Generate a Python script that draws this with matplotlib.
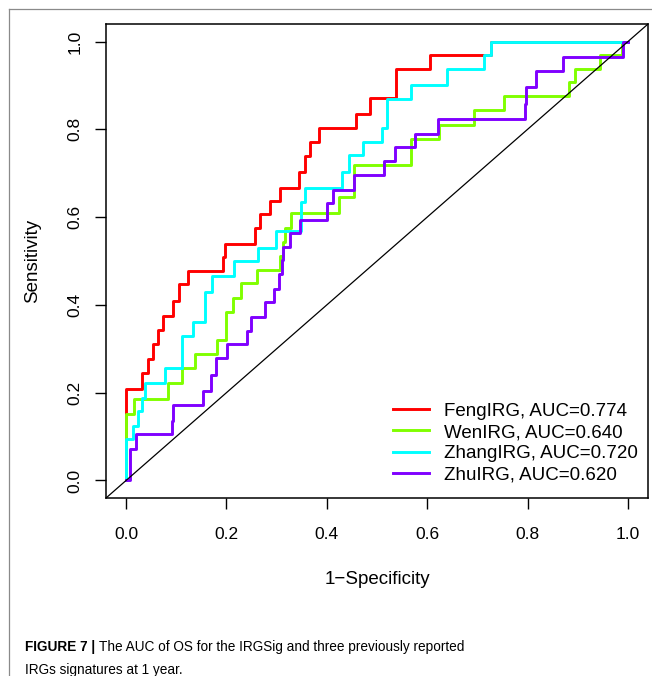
import matplotlib
matplotlib.use("Agg")
import matplotlib.pyplot as plt
from matplotlib.lines import Line2D

plt.rcParams['font.family'] = ['Liberation Sans', 'DejaVu Sans']

# step points: x where the curve jumps, y level after the jump
feng_fpr = [0, 0, 0.031, 0.043, 0.053, 0.063, 0.073, 0.093, 0.106, 0.124, 0.193, 0.198,
            0.257, 0.266, 0.287, 0.307, 0.344, 0.357, 0.367, 0.384, 0.458, 0.487, 0.537,
            0.605, 0.727, 1.0]
feng_tpr = [0, 0.209, 0.244, 0.276, 0.31, 0.343, 0.375, 0.41, 0.447, 0.478, 0.509, 0.539,
            0.575, 0.606, 0.636, 0.667, 0.702, 0.739, 0.771, 0.803, 0.836, 0.871, 0.938,
            0.970, 1.0, 1.0]

wen_fpr = [0, 0, 0.016, 0.084, 0.111, 0.138, 0.182, 0.2, 0.214, 0.228, 0.261, 0.307, 0.313,
           0.317, 0.329, 0.425, 0.455, 0.568, 0.623, 0.693, 0.754, 0.883, 0.894, 0.944,
           0.989, 1.0]
wen_tpr = [0, 0.151, 0.185, 0.221, 0.256, 0.288, 0.32, 0.384, 0.415, 0.451, 0.48, 0.512, 0.544,
           0.575, 0.61, 0.645, 0.718, 0.779, 0.809, 0.843, 0.875, 0.908, 0.938, 0.970,
           1.0, 1.0]

zhang_fpr = [0, 0, 0.013, 0.023, 0.031, 0.038, 0.077, 0.111, 0.134, 0.158, 0.171, 0.216,
             0.262, 0.299, 0.349, 0.357, 0.43, 0.444, 0.472, 0.51, 0.519, 0.567, 0.639,
             0.713, 0.727, 1.0]
zhang_tpr = [0, 0.094, 0.124, 0.158, 0.189, 0.221, 0.256, 0.328, 0.361, 0.43, 0.466, 0.499,
             0.53, 0.568, 0.634, 0.667, 0.702, 0.742, 0.772, 0.804, 0.87, 0.902, 0.938,
             0.97, 1.0, 1.0]

zhu_fpr = [0, 0.008, 0.019, 0.091, 0.094, 0.154, 0.17, 0.179, 0.201, 0.24, 0.248, 0.277,
           0.295, 0.304, 0.311, 0.313, 0.327, 0.347, 0.4, 0.412, 0.454, 0.514, 0.536, 0.575,
           0.621, 0.794, 0.796, 0.816, 0.87, 0.991, 1.0]
zhu_tpr = [0, 0.072, 0.105, 0.135, 0.172, 0.204, 0.24, 0.28, 0.31, 0.341, 0.373, 0.406,
           0.436, 0.47, 0.502, 0.531, 0.563, 0.594, 0.632, 0.661, 0.696, 0.727, 0.76, 0.79,
           0.824, 0.858, 0.896, 0.934, 0.965, 1.0, 1.0]

labels = ["FengIRG, AUC=0.774", "WenIRG, AUC=0.640", "ZhangIRG, AUC=0.720", "ZhuIRG, AUC=0.620"]
colors = ["#FF0000", "#80FF00", "#00FFFF", "#8000FF"]
ticks = [0.0, 0.2, 0.4, 0.6, 0.8, 1.0]

fig = plt.figure(figsize=(6.52, 6.76), dpi=100)
ax = fig.add_axes([0.1626, 0.2633, 0.8313, 0.7012])

curves = [(feng_fpr, feng_tpr), (wen_fpr, wen_tpr), (zhang_fpr, zhang_tpr), (zhu_fpr, zhu_tpr)]
for (fx, fy), col, lab in zip(curves, colors, labels):
    ax.step(fx, fy, where='post', color=col, lw=2.1, label=lab)

ax.axline((0, 0), slope=1, color='black', lw=0.9)

ax.set_xlim(-0.04, 1.04)
ax.set_ylim(-0.04, 1.04)
ax.set_xticks(ticks)
ax.set_yticks(ticks)
ax.set_xticklabels([f"{t:.1f}" for t in ticks])
ax.set_yticklabels([f"{t:.1f}" for t in ticks], rotation=90, va='center')
ax.tick_params(direction='out', length=8, width=1, labelsize=12.5, colors='black')
ax.tick_params(axis='x', pad=13)
ax.tick_params(axis='y', pad=9)
for s in ax.spines.values():
    s.set_linewidth(1.1)

ax.set_xlabel("1\u2212Specificity", fontsize=13.5, labelpad=21)
ax.set_ylabel("Sensitivity", fontsize=13.5, labelpad=19)

ax.legend(loc='lower right', bbox_to_anchor=(1.012, -0.005), frameon=False, fontsize=13.5,
          handlelength=1.9, handletextpad=0.8, labelspacing=0.22)

# page frame lines (top and left)
fig.add_artist(Line2D([9 / 652, 9 / 652], [0, 1 - 9 / 676], transform=fig.transFigure,
                      color='#8a8a8a', lw=0.9))
fig.add_artist(Line2D([9 / 652, 1], [1 - 9 / 676, 1 - 9 / 676], transform=fig.transFigure,
                      color='#8a8a8a', lw=0.9))

# caption
cap_size = 9.8
y1 = 1 - 647 / 676
head = fig.text(25 / 652, y1, "FIGURE 7 |", fontsize=cap_size, fontweight='bold',
                va='center', ha='left')
fig.canvas.draw()
bb = head.get_window_extent(renderer=fig.canvas.get_renderer())
fig.text((bb.x1 + 4) / 652, y1, "The AUC of OS for the IRGSig and three previously reported",
         fontsize=cap_size, va='center', ha='left')
fig.text(25 / 652, 1 - 670 / 676, "IRGs signatures at 1 year.", fontsize=cap_size,
         va='center', ha='left')

fig.savefig("out.png", dpi=100)
